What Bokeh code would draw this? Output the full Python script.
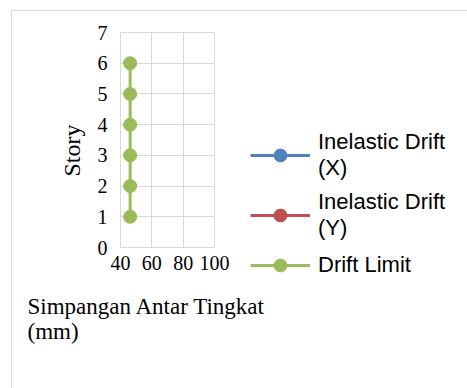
from bokeh.plotting import figure
from bokeh.models import Legend, LegendItem, ColumnDataSource, FixedTicker, Range1d, Title
from bokeh.embed import file_html
from bokeh.resources import INLINE

# ---- data ----
stories = [1, 2, 3, 4, 5, 6]
drift_limit = [46.15, 46.15, 46.15, 46.15, 46.15, 46.15]
# inelastic drifts are below the axis minimum (40 mm), so they are not visible
inelastic_x = [22, 30, 31, 29, 25, 18]
inelastic_y = [24, 32, 33, 31, 27, 20]
x_ticks = [40, 60, 80, 100]
y_ticks = [0, 1, 2, 3, 4, 5, 6, 7]
series_labels = ["Inelastic Drift\n(X)", "Inelastic Drift\n(Y)", "Drift Limit"]
colors = ["#4F81BD", "#C0504D", "#9BBB59"]
x_title = "Simpangan Antar Tingkat\n(mm)"
y_title = "Story"

GRID = "#d9d9d9"
SERIF = "Liberation Serif"
SANS = "Liberation Sans"

p = figure(frame_width=94, frame_height=215,
           min_border_left=108, min_border_top=21,
           min_border_right=254, min_border_bottom=142,
           x_range=Range1d(40, 100), y_range=Range1d(0, 7),
           output_backend="svg", toolbar_location=None,
           background_fill_color="white", border_fill_color="white",
           styles={"border-top": "1px solid #d9d9d9",
                   "border-left": "1px solid #d9d9d9",
                   "margin-left": "11px", "margin-top": "10px"})

p.outline_line_color = GRID
p.xgrid.grid_line_color = GRID
p.ygrid.grid_line_color = GRID
p.xaxis.ticker = FixedTicker(ticks=x_ticks)
p.yaxis.ticker = FixedTicker(ticks=y_ticks)
for ax in (p.xaxis, p.yaxis):
    ax.axis_line_color = None
    ax.major_tick_line_color = None
    ax.minor_tick_line_color = None
    ax.major_label_text_font = SERIF
    ax.major_label_text_font_size = "20px"
    ax.major_label_text_color = "black"
p.yaxis.major_label_standoff = 7
p.xaxis.major_label_standoff = 2

src_x = ColumnDataSource(dict(x=inelastic_x, y=stories))
src_y = ColumnDataSource(dict(x=inelastic_y, y=stories))
src_l = ColumnDataSource(dict(x=drift_limit, y=stories))

renderers = []
for src, c in zip([src_x, src_y, src_l], colors):
    lr = p.line("x", "y", source=src, line_color=c, line_width=3)
    sr = p.scatter("x", "y", source=src, size=13, fill_color=c, line_color=c)
    renderers.append([lr, sr])

legend = Legend(items=[LegendItem(label=t, renderers=r) for t, r in zip(series_labels, renderers)],
                location=(36, -34), glyph_width=60, glyph_height=32,
                spacing=8, padding=0, margin=0, label_standoff=8,
                label_text_font=SANS, label_text_font_size="22px",
                label_text_color="black",
                border_line_color=None, background_fill_alpha=0)
p.add_layout(legend, "right")

# axis titles
p.add_layout(Title(text=y_title, align="left", offset=71, standoff=20,
                   text_font=SERIF, text_font_size="24px", text_font_style="normal",
                   text_color="black"), "left")
p.add_layout(Title(text=x_title, align="left", offset=-93, standoff=38,
                   text_font=SERIF, text_font_size="23px", text_font_style="normal",
                   text_color="black"), "below")

open("out.html", "w").write(file_html(p, INLINE))
